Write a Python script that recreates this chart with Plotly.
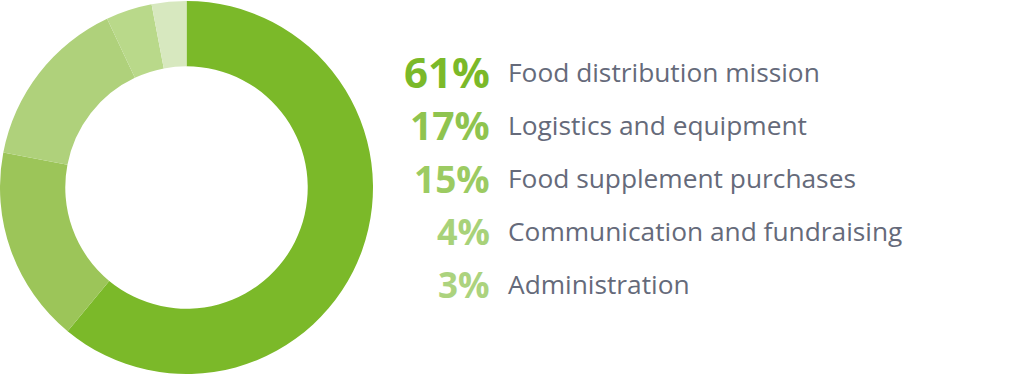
import plotly.graph_objects as go

categories = ["Food distribution mission", "Logistics and equipment", "Food supplement purchases",
              "Communication and fundraising", "Administration"]
values = [61, 17, 15, 4, 3]
pct_labels = ["61%", "17%", "15%", "4%", "3%"]

slice_colors = ["#7bb929", "#9cc559", "#afd17b", "#b9d98a", "#d7e8bf"]
pct_colors = ["#7bb929", "#8fc44f", "#9ccb62", "#a8d279", "#acd37e"]
pct_sizes = [42, 39, 37, 36, 35]

W, H = 1024, 375
fig = go.Figure()
fig.add_trace(go.Pie(
    values=values, labels=categories, sort=False, direction="clockwise", rotation=0,
    hole=0.65, marker=dict(colors=slice_colors, line=dict(width=0)),
    textinfo="none", hoverinfo="label+percent",
    domain=dict(x=[0, 373 / W], y=[0, 1]),
))

row_y = [72, 125, 178, 231, 284]
for i, (p, lab) in enumerate(zip(pct_labels, categories)):
    yy = 1 - row_y[i] / H
    fig.add_annotation(x=492 / W, y=yy, xref="paper", yref="paper", xanchor="right", yanchor="middle",
                       text=f"<b>{p}</b>", showarrow=False,
                       font=dict(family="Open Sans", size=pct_sizes[i], color=pct_colors[i]))
    fig.add_annotation(x=506 / W, y=yy, xref="paper", yref="paper", xanchor="left", yanchor="middle",
                       text=lab, showarrow=False,
                       font=dict(family="Open Sans", size=26.3, color="#656a7a"))

fig.update_layout(width=W, height=H, margin=dict(l=0, r=0, t=0, b=0),
                  paper_bgcolor="white", plot_bgcolor="white", showlegend=False)
fig.write_html("out.html", config={"displayModeBar": False},
               post_script="document.body.style.margin='0';document.body.style.overflow='hidden';")
